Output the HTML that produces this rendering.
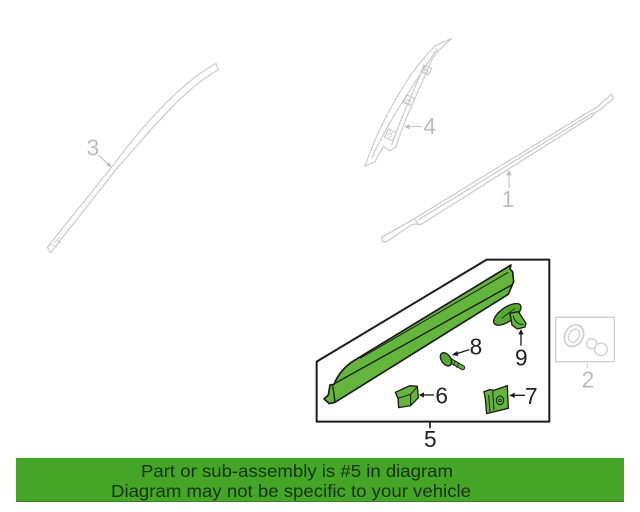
<!DOCTYPE html>
<html><head><meta charset="utf-8"><style>
html,body{margin:0;padding:0;background:#fff}
svg{display:block}
text{font-family:"Liberation Sans",sans-serif}
</style></head><body>
<svg width="640" height="512" viewBox="0 0 640 512" xmlns="http://www.w3.org/2000/svg">
<defs><filter id="b" x="-5%" y="-5%" width="110%" height="110%"><feGaussianBlur stdDeviation="0.35"/></filter></defs>
<g filter="url(#b)">
<!-- part 3 -->
<g transform="translate(30,50) scale(.3333)" fill="none" stroke="#c9c9c9" stroke-width="3.5">
<path d="M558 40 L565 60 C470 110 380 220 265 350 L62 608 L52 592 L250 345 C340 225 450 100 558 40Z" fill="#fff"/>
<path d="M62 582 L82 592 M72 578 L92 560 M82 572 L95 580" stroke-width="2.5"/>
<path d="M205 315 L240 348" stroke="#bbb" stroke-width="3"/>
<path d="M245 353 L230 346 L238 336Z" fill="#bbb" stroke="none"/>
<text x="170" y="316" font-size="68" fill="#bcbcbc" stroke="none">3</text>
</g>
<!-- part 4 and 1 -->
<g transform="translate(350,30) scale(.3333)" fill="none" stroke="#c9c9c9" stroke-width="3.5">
<path d="M305 25 C285 45 262 60 245 90 C215 165 170 250 138 350 L120 362 L100 350 L85 375 L75 395 L45 408 C85 290 170 130 255 48Z" fill="#fff"/>
<path d="M262 55 C200 150 110 280 65 385 M225 105 C180 200 140 300 125 345"/>
<path d="M222 105 L245 115 L235 135 L213 126Z M170 195 L194 205 L185 227 L160 218Z M115 298 L138 308 L128 332 L103 322Z"/>
<path d="M228 118 a6 6 0 1 0 .1 0 M175 208 a7 7 0 1 0 .1 0 M120 310 a6 6 0 1 0 .1 0" stroke-width="2.5"/>
<path d="M172 290 L215 290" stroke="#bbb" stroke-width="3"/>
<path d="M164 290 L178 282 L178 298Z" fill="#bbb" stroke="none"/>
<text x="220" y="312" font-size="68" fill="#bcbcbc" stroke="none">4</text>
<path d="M95 622 L190 568 L745 228 L785 192 L790 205 L750 240 L735 248 L728 258 L212 584 L195 582 L185 584 L110 635 L98 635Z" fill="#fff"/>
<path d="M195 568 L205 584 M205 570 L730 248"/>
<path d="M477 475 L477 432" stroke="#bbb" stroke-width="3"/>
<path d="M477 420 L469 436 L485 436Z" fill="#bbb" stroke="none"/>
<text x="455" y="531" font-size="68" fill="#bcbcbc" stroke="none">1</text>
</g>
<!-- part 2 -->
<g transform="translate(550,305) scale(.3333)" fill="none" stroke="#cfcfcf" stroke-width="4">
<rect x="17" y="37" width="176" height="133"/>
<ellipse cx="72" cy="92" rx="27" ry="34" transform="rotate(30 72 92)" stroke-width="5"/>
<ellipse cx="72" cy="92" rx="15" ry="21" transform="rotate(30 72 92)"/>
<circle cx="125" cy="116" r="15"/>
<circle cx="153" cy="133" r="19" fill="#fff"/>
<path d="M112 175 V187"/>
<text x="95" y="247" font-size="68" fill="#bcbcbc" stroke="none">2</text>
</g>
<!-- box 5 -->
<g transform="translate(310,255) scale(.3333)" stroke="#1a1a1a" stroke-width="5" fill="none" stroke-linejoin="round">
<path d="M20 320 L530 14 H718 V500 H20Z" fill="#fff" stroke-width="6"/>
<path d="M360 502 V520" stroke-width="5"/>
<path d="M603 30 L600 42 L608 50 L611 80 L595 118 L75 442 L58 446 L42 432 L55 420 L60 390 L72 388 C85 355 110 330 135 315Z" fill="#63b53a"/>
<path d="M75 385 L605 90" stroke-width="4"/>
<path d="M150 310 L595 52" stroke-width="3"/>
<path d="M68 392 L75 440" stroke-width="4"/>
<!-- 8 -->
<g>
<path d="M420 316 L458 338" stroke="#1a1a1a" stroke-width="15" stroke-linecap="round"/>
<path d="M420 316 L458 338" stroke="#63b53a" stroke-width="9" stroke-linecap="round"/>
<ellipse cx="408" cy="313" rx="14" ry="22" transform="rotate(-35 408 313)" fill="#55a832" stroke-width="4"/>
<path d="M436 318 L430 332 M446 324 L440 338" stroke-width="2.5"/>
</g>
<path d="M434 298 L478 284" stroke-width="4"/>
<path d="M425 300 L442 288 L445 303Z" fill="#1a1a1a" stroke="none"/>
<!-- 9 -->
<ellipse cx="592" cy="178" rx="48" ry="21" transform="rotate(-35 592 178)" fill="#55a832" stroke-width="4"/>
<path d="M600 175 L625 170 L648 205 L645 216 L622 222 L606 210Z" fill="#63b53a" stroke-width="4"/>
<path d="M610 182 C612 198 625 210 640 208" stroke-width="3"/>
<path d="M575 190 L615 160" stroke-width="2.5"/>
<path d="M633 272 V234" stroke-width="4"/>
<path d="M633 222 L625 238 L641 238Z" fill="#1a1a1a" stroke="none"/>
<!-- 6 -->
<path d="M256 412 L300 392 L322 394 L325 428 L302 452 L266 458 L264 430Z" fill="#63b53a" stroke-width="4"/>
<path d="M264 430 L302 418 L322 395 M302 418 L302 452" stroke-width="3"/>
<path d="M334 420 H372" stroke-width="4"/>
<path d="M326 420 L342 412 L342 428Z" fill="#1a1a1a" stroke="none"/>
<!-- 7 -->
<path d="M522 410 L540 404 L552 406 L592 392 L595 460 L530 476 L526 430Z" fill="#63b53a" stroke-width="4"/>
<path d="M548 408 L552 466 M536 420 L540 470" stroke-width="3"/>
<ellipse cx="570" cy="436" rx="11" ry="13" stroke-width="3"/>
<circle cx="570" cy="436" r="4" stroke-width="2.5"/>
<path d="M608 421 H645" stroke-width="4"/>
<path d="M598 421 L614 413 L614 429Z" fill="#1a1a1a" stroke="none"/>
<g fill="#222" stroke="none" font-size="68">
<text x="479" y="298">8</text>
<text x="615" y="332">9</text>
<text x="376" y="445">6</text>
<text x="645" y="447">7</text>
<text x="342" y="576">5</text>
</g>
</g>
<!-- banner -->
<rect x="16" y="458" width="608" height="44" fill="#45a528"/>
<rect x="16" y="501" width="608" height="1" fill="#3a7f2a"/>
<g fill="#15330f" font-size="17.5">
<text x="141" y="477" textLength="312" lengthAdjust="spacingAndGlyphs">Part or sub-assembly is #5 in diagram</text>
<text x="111" y="497" textLength="360" lengthAdjust="spacingAndGlyphs">Diagram may not be specific to your vehicle</text>
</g>
</g>
</svg>
</body></html>
